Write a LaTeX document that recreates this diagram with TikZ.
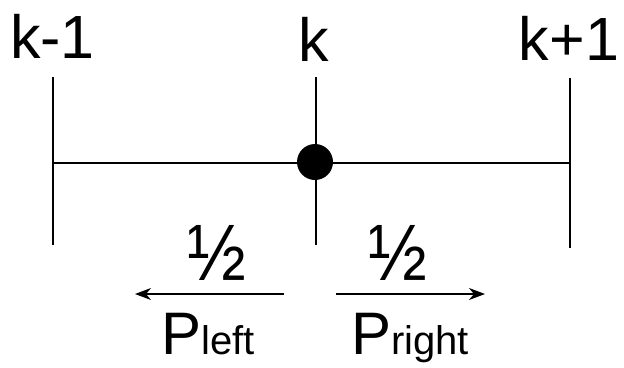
\documentclass[tikz,border=0pt]{standalone}
\usepackage{fontspec}
\setmainfont{Liberation Sans}
\usetikzlibrary{arrows.meta}
\begin{document}
\begin{tikzpicture}[x=1pt,y=-1pt,
  ln/.style={line width=1.3pt},
  arr/.style={line width=1.3pt,-{Stealth[length=16pt,width=12pt,inset=5pt]}},
  lbl/.style={inner sep=0pt,anchor=base,font=\fontsize{61}{61}\selectfont},
  half/.style={inner sep=0pt,anchor=base,font=\fontsize{80}{80}\selectfont},
  pl/.style={inner sep=0pt,anchor=base,font=\fontsize{60}{60}\selectfont}]
\useasboundingbox (0,0) rectangle (624,367);
% labels
\node[lbl] (km1) at (52.5,58) {k-1};
\node[lbl] (k) at (314,61) {k};
\node[lbl] (kp1) at (569,60) {k+1};
% ticks
\coordinate (Lt) at (53,77);  \coordinate (Lb) at (53,245);
\coordinate (Mt) at (316,77); \coordinate (Mb) at (316,245);
\coordinate (Rt) at (570,78); \coordinate (Rb) at (570,248);
\draw[ln] (Lt) -- (Lb);
\draw[ln] (Mt) -- (Mb);
\draw[ln] (Rt) -- (Rb);
\coordinate (Lm) at (53,163); \coordinate (Rm) at (570,163);
\draw[ln] (Lm) -- (Rm);
\node[circle,fill=black,inner sep=0pt,minimum size=36pt] (dot) at (315,162) {};
% halves
\node[half,xscale=0.88] (hl) at (217,280) {½};
\node[half,xscale=0.88] (hr) at (398,280) {½};
% arrows
\coordinate (a1s) at (284,294); \coordinate (a1e) at (135,294);
\coordinate (a2s) at (336,294); \coordinate (a2e) at (485,294);
\draw[arr] (a1s) -- (a1e);
\draw[arr] (a2s) -- (a2e);
% probabilities
\node[pl] (pleft) at (208,354) {P{\fontsize{40}{40}\selectfont left}};
\node[pl] (pright) at (410,354) {P{\fontsize{40}{40}\selectfont right}};
\end{tikzpicture}
\end{document}
